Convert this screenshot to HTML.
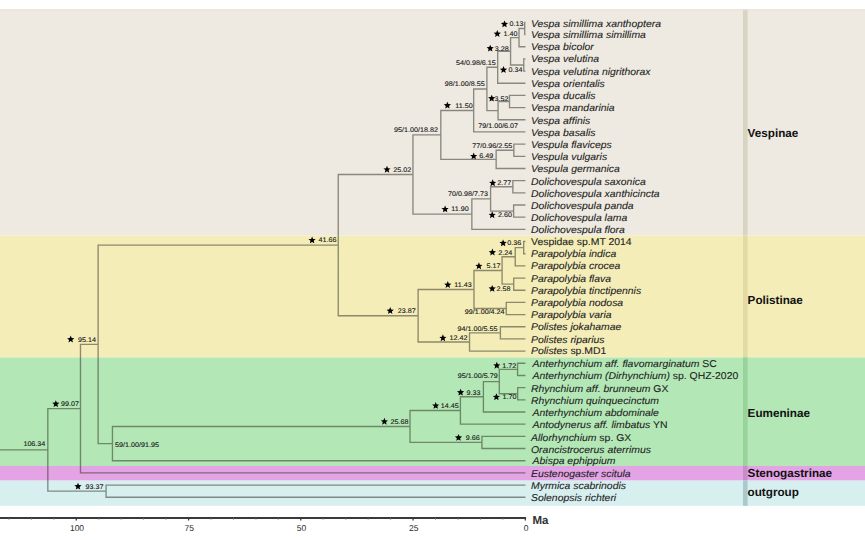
<!DOCTYPE html><html><head><meta charset="utf-8"><style>html,body{margin:0;padding:0;background:#fff;width:865px;height:540px;overflow:hidden}svg{display:block}text{font-family:"Liberation Sans",sans-serif;text-rendering:geometricPrecision}</style></head><body>
<svg width="865" height="540" viewBox="0 0 865 540">
<rect x="0" y="9.40" width="865" height="226.20" fill="#eeeae1"/>
<rect x="743" y="9.40" width="4.6" height="226.20" fill="#d8d4c2"/>
<rect x="0" y="235.60" width="865" height="121.80" fill="#f4edb8"/>
<rect x="743" y="235.60" width="4.6" height="121.80" fill="#e3dba4"/>
<rect x="0" y="357.40" width="865" height="108.60" fill="#b3e8b6"/>
<rect x="743" y="357.40" width="4.6" height="108.60" fill="#98d39c"/>
<rect x="0" y="466.00" width="865" height="14.60" fill="#e3a3e5"/>
<rect x="743" y="466.00" width="4.6" height="14.60" fill="#c78dca"/>
<rect x="0" y="480.60" width="865" height="25.20" fill="#d8eff0"/>
<rect x="743" y="480.60" width="4.6" height="25.20" fill="#a9c9cb"/>
<rect x="0" y="9.4" width="865" height="1" fill="#e6e2da"/>
<path d="M524.72 22.36L524.72 34.54M524.72 22.36L524.80 22.36M524.72 34.54L524.80 34.54M519.01 28.45L519.01 46.71M519.01 28.45L524.72 28.45M519.01 46.71L524.80 46.71M523.77 58.89L523.77 71.06M523.77 58.89L524.80 58.89M523.77 71.06L524.80 71.06M510.57 37.58L510.57 64.98M510.57 37.58L519.01 37.58M510.57 64.98L523.77 64.98M497.69 51.28L497.69 83.24M497.69 51.28L510.57 51.28M497.69 83.24L524.80 83.24M509.50 95.42L509.50 107.59M509.50 95.42L524.80 95.42M509.50 107.59L524.80 107.59M498.05 101.50L498.05 119.77M498.05 101.50L509.50 101.50M498.05 119.77L524.80 119.77M486.91 67.26L486.91 110.64M486.91 67.26L497.69 67.26M486.91 110.64L498.05 110.64M473.66 88.95L473.66 131.94M473.66 88.95L486.91 88.95M473.66 131.94L524.80 131.94M513.85 144.12L513.85 156.30M513.85 144.12L524.80 144.12M513.85 156.30L524.80 156.30M496.16 150.21L496.16 168.47M496.16 150.21L513.85 150.21M496.16 168.47L524.80 168.47M440.80 110.45L440.80 159.34M440.80 110.45L473.66 110.45M440.80 159.34L496.16 159.34M512.86 180.65L512.86 192.82M512.86 180.65L524.80 180.65M512.86 192.82L524.80 192.82M513.63 205.00L513.63 217.18M513.63 205.00L524.80 205.00M513.63 217.18L524.80 217.18M490.59 186.74L490.59 211.09M490.59 186.74L512.86 186.74M490.59 211.09L513.63 211.09M471.87 198.91L471.87 229.35M471.87 198.91L490.59 198.91M471.87 229.35L524.80 229.35M412.96 134.89L412.96 214.13M412.96 134.89L440.80 134.89M412.96 214.13L471.87 214.13M523.68 241.53L523.68 253.70M523.68 241.53L524.80 241.53M523.68 253.70L524.80 253.70M515.24 247.62L515.24 265.88M515.24 247.62L523.68 247.62M515.24 265.88L524.80 265.88M513.72 278.06L513.72 290.23M513.72 278.06L524.80 278.06M513.72 290.23L524.80 290.23M502.09 256.75L502.09 284.14M502.09 256.75L515.24 256.75M502.09 284.14L513.72 284.14M506.26 302.41L506.26 314.58M506.26 302.41L524.80 302.41M506.26 314.58L524.80 314.58M473.98 270.45L473.98 308.50M473.98 270.45L502.09 270.45M473.98 308.50L506.26 308.50M500.38 326.76L500.38 338.94M500.38 326.76L524.80 326.76M500.38 338.94L524.80 338.94M469.53 332.85L469.53 351.11M469.53 332.85L500.38 332.85M469.53 351.11L524.80 351.11M418.12 289.47L418.12 341.98M418.12 289.47L473.98 289.47M418.12 341.98L469.53 341.98M338.25 174.51L338.25 315.73M338.25 174.51L412.96 174.51M338.25 315.73L418.12 315.73M517.58 363.29L517.58 375.46M517.58 363.29L524.80 363.29M517.58 375.46L524.80 375.46M517.67 387.64L517.67 399.82M517.67 387.64L524.80 387.64M517.67 399.82L524.80 399.82M499.30 369.38L499.30 393.73M499.30 369.38L517.58 369.38M499.30 393.73L517.67 393.73M483.41 381.55L483.41 411.99M483.41 381.55L499.30 381.55M483.41 411.99L524.80 411.99M460.42 396.77L460.42 424.17M460.42 396.77L483.41 396.77M460.42 424.17L524.80 424.17M481.93 436.34L481.93 448.52M481.93 436.34L524.80 436.34M481.93 448.52L524.80 448.52M410.00 410.47L410.00 442.43M410.00 410.47L460.42 410.47M410.00 442.43L481.93 442.43M112.44 426.45L112.44 460.70M112.44 426.45L410.00 426.45M112.44 460.70L524.80 460.70M98.12 245.12L98.12 443.57M98.12 245.12L338.25 245.12M98.12 443.57L112.44 443.57M80.48 344.35L80.48 472.87M80.48 344.35L98.12 344.35M80.48 472.87L524.80 472.87M106.07 485.05L106.07 497.22M106.07 485.05L524.80 485.05M106.07 497.22L524.80 497.22M47.83 408.61L47.83 491.14M47.83 408.61L80.48 408.61M47.83 491.14L106.07 491.14M0.00 449.87L47.83 449.87" stroke="#2e2e22" stroke-opacity="0.52" stroke-width="1.35" fill="none" stroke-linecap="square"/>
<text transform="translate(531.00 26.80) scale(1.0556 1)" font-size="9.90" fill="#222" stroke="#222" stroke-width="0.1"><tspan font-style="italic">Vespa simillima xanthoptera</tspan></text>
<text transform="translate(531.00 38.09) scale(1.0556 1)" font-size="9.90" fill="#222" stroke="#222" stroke-width="0.1"><tspan font-style="italic">Vespa simillima simillima</tspan></text>
<text transform="translate(531.00 50.33) scale(1.0556 1)" font-size="9.90" fill="#222" stroke="#222" stroke-width="0.1"><tspan font-style="italic">Vespa bicolor</tspan></text>
<text transform="translate(531.00 62.47) scale(1.0556 1)" font-size="9.90" fill="#222" stroke="#222" stroke-width="0.1"><tspan font-style="italic">Vespa velutina</tspan></text>
<text transform="translate(531.00 74.81) scale(1.0556 1)" font-size="9.90" fill="#222" stroke="#222" stroke-width="0.1"><tspan font-style="italic">Vespa velutina nigrithorax</tspan></text>
<text transform="translate(531.00 86.90) scale(1.0556 1)" font-size="9.90" fill="#222" stroke="#222" stroke-width="0.1"><tspan font-style="italic">Vespa orientalis</tspan></text>
<text transform="translate(531.00 99.28) scale(1.0556 1)" font-size="9.90" fill="#222" stroke="#222" stroke-width="0.1"><tspan font-style="italic">Vespa ducalis</tspan></text>
<text transform="translate(531.00 111.27) scale(1.0556 1)" font-size="9.90" fill="#222" stroke="#222" stroke-width="0.1"><tspan font-style="italic">Vespa mandarinia</tspan></text>
<text transform="translate(531.00 123.61) scale(1.0556 1)" font-size="9.90" fill="#222" stroke="#222" stroke-width="0.1"><tspan font-style="italic">Vespa affinis</tspan></text>
<text transform="translate(531.00 135.70) scale(1.0556 1)" font-size="9.90" fill="#222" stroke="#222" stroke-width="0.1"><tspan font-style="italic">Vespa basalis</tspan></text>
<text transform="translate(531.00 147.78) scale(1.0556 1)" font-size="9.90" fill="#222" stroke="#222" stroke-width="0.1"><tspan font-style="italic">Vespula flaviceps</tspan></text>
<text transform="translate(531.00 159.87) scale(1.0556 1)" font-size="9.90" fill="#222" stroke="#222" stroke-width="0.1"><tspan font-style="italic">Vespula vulgaris</tspan></text>
<text transform="translate(531.00 172.21) scale(1.0556 1)" font-size="9.90" fill="#222" stroke="#222" stroke-width="0.1"><tspan font-style="italic">Vespula germanica</tspan></text>
<text transform="translate(531.00 184.55) scale(1.0556 1)" font-size="9.90" fill="#222" stroke="#222" stroke-width="0.1"><tspan font-style="italic">Dolichovespula saxonica</tspan></text>
<text transform="translate(531.00 196.74) scale(1.0556 1)" font-size="9.90" fill="#222" stroke="#222" stroke-width="0.1"><tspan font-style="italic">Dolichovespula xanthicincta</tspan></text>
<text transform="translate(531.00 208.97) scale(1.0556 1)" font-size="9.90" fill="#222" stroke="#222" stroke-width="0.1"><tspan font-style="italic">Dolichovespula panda</tspan></text>
<text transform="translate(531.00 221.06) scale(1.0556 1)" font-size="9.90" fill="#222" stroke="#222" stroke-width="0.1"><tspan font-style="italic">Dolichovespula lama</tspan></text>
<text transform="translate(531.00 233.20) scale(1.0556 1)" font-size="9.90" fill="#222" stroke="#222" stroke-width="0.1"><tspan font-style="italic">Dolichovespula flora</tspan></text>
<text transform="translate(531.00 245.04) scale(1.0556 1)" font-size="9.90" fill="#222" stroke="#222" stroke-width="0.1"><tspan font-style="normal">Vespidae sp.MT 2014</tspan></text>
<text transform="translate(531.00 257.38) scale(1.0556 1)" font-size="9.90" fill="#222" stroke="#222" stroke-width="0.1"><tspan font-style="italic">Parapolybia indica</tspan></text>
<text transform="translate(531.00 269.47) scale(1.0556 1)" font-size="9.90" fill="#222" stroke="#222" stroke-width="0.1"><tspan font-style="italic">Parapolybia crocea</tspan></text>
<text transform="translate(531.00 281.55) scale(1.0556 1)" font-size="9.90" fill="#222" stroke="#222" stroke-width="0.1"><tspan font-style="italic">Parapolybia flava</tspan></text>
<text transform="translate(531.00 293.89) scale(1.0556 1)" font-size="9.90" fill="#222" stroke="#222" stroke-width="0.1"><tspan font-style="italic">Parapolybia tinctipennis</tspan></text>
<text transform="translate(531.00 306.08) scale(1.0556 1)" font-size="9.90" fill="#222" stroke="#222" stroke-width="0.1"><tspan font-style="italic">Parapolybia nodosa</tspan></text>
<text transform="translate(531.00 318.07) scale(1.0556 1)" font-size="9.90" fill="#222" stroke="#222" stroke-width="0.1"><tspan font-style="italic">Parapolybia varia</tspan></text>
<text transform="translate(531.00 330.40) scale(1.0556 1)" font-size="9.90" fill="#222" stroke="#222" stroke-width="0.1"><tspan font-style="italic">Polistes jokahamae</tspan></text>
<text transform="translate(531.00 342.74) scale(1.0556 1)" font-size="9.90" fill="#222" stroke="#222" stroke-width="0.1"><tspan font-style="italic">Polistes riparius</tspan></text>
<text transform="translate(531.00 354.48) scale(1.0556 1)" font-size="9.90" fill="#222" stroke="#222" stroke-width="0.1"><tspan font-style="italic">Polistes </tspan><tspan font-style="normal">sp.MD1</tspan></text>
<text transform="translate(532.60 367.17) scale(1.0556 1)" font-size="9.90" fill="#222" stroke="#222" stroke-width="0.1"><tspan font-style="italic">Anterhynchium aff. flavomarginatum </tspan><tspan font-style="normal">SC</tspan></text>
<text transform="translate(532.60 379.26) scale(1.0556 1)" font-size="9.90" fill="#222" stroke="#222" stroke-width="0.1"><tspan font-style="italic">Anterhynchium (Dirhynchium) </tspan><tspan font-style="normal">sp. QHZ-2020</tspan></text>
<text transform="translate(531.00 391.60) scale(1.0556 1)" font-size="9.90" fill="#222" stroke="#222" stroke-width="0.1"><tspan font-style="italic">Rhynchium aff. brunneum </tspan><tspan font-style="normal">GX</tspan></text>
<text transform="translate(531.00 403.68) scale(1.0556 1)" font-size="9.90" fill="#222" stroke="#222" stroke-width="0.1"><tspan font-style="italic">Rhynchium quinquecinctum</tspan></text>
<text transform="translate(532.60 415.87) scale(1.0556 1)" font-size="9.90" fill="#222" stroke="#222" stroke-width="0.1"><tspan font-style="italic">Anterhynchium abdominale</tspan></text>
<text transform="translate(532.60 428.11) scale(1.0556 1)" font-size="9.90" fill="#222" stroke="#222" stroke-width="0.1"><tspan font-style="italic">Antodynerus aff. limbatus </tspan><tspan font-style="normal">YN</tspan></text>
<text transform="translate(531.00 440.65) scale(1.0556 1)" font-size="9.90" fill="#222" stroke="#222" stroke-width="0.1"><tspan font-style="italic">Allorhynchium </tspan><tspan font-style="normal">sp. GX</tspan></text>
<text transform="translate(531.00 452.88) scale(1.0556 1)" font-size="9.90" fill="#222" stroke="#222" stroke-width="0.1"><tspan font-style="italic">Orancistrocerus aterrimus</tspan></text>
<text transform="translate(532.60 464.27) scale(1.0556 1)" font-size="9.90" fill="#222" stroke="#222" stroke-width="0.1"><tspan font-style="italic">Abispa ephippium</tspan></text>
<text transform="translate(531.00 476.76) scale(1.0556 1)" font-size="9.90" fill="#222" stroke="#222" stroke-width="0.1"><tspan font-style="italic">Eustenogaster scitula</tspan></text>
<text transform="translate(531.00 489.05) scale(1.0556 1)" font-size="9.90" fill="#222" stroke="#222" stroke-width="0.1"><tspan font-style="italic">Myrmica scabrinodis</tspan></text>
<text transform="translate(531.00 501.39) scale(1.0556 1)" font-size="9.90" fill="#222" stroke="#222" stroke-width="0.1"><tspan font-style="italic">Solenopsis richteri</tspan></text>
<text transform="translate(509.50 26.30) scale(1.0746 1)" font-size="6.70" fill="#1a1a1a" stroke="#1a1a1a" stroke-width="0.12">0.13</text>
<polygon points="504.50,20.40 505.50,22.81 508.10,23.02 506.12,24.71 506.73,27.25 504.50,25.89 502.27,27.25 502.88,24.71 500.90,23.02 503.50,22.81" fill="#000"/>
<text transform="translate(503.47 36.00) scale(1.0746 1)" font-size="6.70" fill="#1a1a1a" stroke="#1a1a1a" stroke-width="0.12">1.40</text>
<polygon points="497.30,30.10 498.30,32.51 500.90,32.72 498.92,34.41 499.53,36.95 497.30,35.59 495.07,36.95 495.68,34.41 493.70,32.72 496.30,32.51" fill="#000"/>
<text transform="translate(494.65 50.60) scale(1.0746 1)" font-size="6.70" fill="#1a1a1a" stroke="#1a1a1a" stroke-width="0.12">3.28</text>
<polygon points="490.20,44.70 491.20,47.11 493.80,47.32 491.82,49.01 492.43,51.55 490.20,50.19 487.97,51.55 488.58,49.01 486.60,47.32 489.20,47.11" fill="#000"/>
<text transform="translate(455.90 65.20) scale(1.0746 1)" font-size="6.70" fill="#1a1a1a" stroke="#1a1a1a" stroke-width="0.12">54/0.98/6.15</text>
<text transform="translate(508.45 72.00) scale(1.0746 1)" font-size="6.70" fill="#1a1a1a" stroke="#1a1a1a" stroke-width="0.12">0.34</text>
<polygon points="503.50,66.10 504.50,68.51 507.10,68.72 505.12,70.41 505.73,72.95 503.50,71.59 501.27,72.95 501.88,70.41 499.90,68.72 502.50,68.51" fill="#000"/>
<text transform="translate(444.70 85.50) scale(1.0746 1)" font-size="6.70" fill="#1a1a1a" stroke="#1a1a1a" stroke-width="0.12">98/1.00/8.55</text>
<text transform="translate(455.23 107.60) scale(1.0746 1)" font-size="6.70" fill="#1a1a1a" stroke="#1a1a1a" stroke-width="0.12">11.50</text>
<polygon points="447.40,101.70 448.40,104.11 451.00,104.32 449.02,106.01 449.63,108.55 447.40,107.19 445.17,108.55 445.78,106.01 443.80,104.32 446.40,104.11" fill="#000"/>
<text transform="translate(494.50 100.60) scale(1.0746 1)" font-size="6.70" fill="#1a1a1a" stroke="#1a1a1a" stroke-width="0.12">3.52</text>
<polygon points="491.70,94.70 492.70,97.11 495.30,97.32 493.32,99.01 493.93,101.55 491.70,100.19 489.47,101.55 490.08,99.01 488.10,97.32 490.70,97.11" fill="#000"/>
<text transform="translate(478.15 127.70) scale(1.0746 1)" font-size="6.70" fill="#1a1a1a" stroke="#1a1a1a" stroke-width="0.12">79/1.00/6.07</text>
<text transform="translate(394.02 132.40) scale(1.0746 1)" font-size="6.70" fill="#1a1a1a" stroke="#1a1a1a" stroke-width="0.12">95/1.00/18.82</text>
<text transform="translate(393.25 171.70) scale(1.0746 1)" font-size="6.70" fill="#1a1a1a" stroke="#1a1a1a" stroke-width="0.12">25.02</text>
<polygon points="387.00,165.80 388.00,168.21 390.60,168.42 388.62,170.11 389.23,172.65 387.00,171.29 384.77,172.65 385.38,170.11 383.40,168.42 386.00,168.21" fill="#000"/>
<text transform="translate(472.27 148.20) scale(1.0746 1)" font-size="6.70" fill="#1a1a1a" stroke="#1a1a1a" stroke-width="0.12">77/0.96/2.55</text>
<text transform="translate(479.32 158.40) scale(1.0746 1)" font-size="6.70" fill="#1a1a1a" stroke="#1a1a1a" stroke-width="0.12">6.49</text>
<polygon points="473.70,152.50 474.70,154.91 477.30,155.12 475.32,156.81 475.93,159.35 473.70,157.99 471.47,159.35 472.08,156.81 470.10,155.12 472.70,154.91" fill="#000"/>
<text transform="translate(497.35 185.20) scale(1.0746 1)" font-size="6.70" fill="#1a1a1a" stroke="#1a1a1a" stroke-width="0.12">2.77</text>
<polygon points="492.70,179.30 493.70,181.71 496.30,181.92 494.32,183.61 494.93,186.15 492.70,184.79 490.47,186.15 491.08,183.61 489.10,181.92 491.70,181.71" fill="#000"/>
<text transform="translate(448.12 196.10) scale(1.0746 1)" font-size="6.70" fill="#1a1a1a" stroke="#1a1a1a" stroke-width="0.12">70/0.98/7.73</text>
<text transform="translate(451.27 211.40) scale(1.0746 1)" font-size="6.70" fill="#1a1a1a" stroke="#1a1a1a" stroke-width="0.12">11.90</text>
<polygon points="445.10,205.50 446.10,207.91 448.70,208.12 446.72,209.81 447.33,212.35 445.10,210.99 442.87,212.35 443.48,209.81 441.50,208.12 444.10,207.91" fill="#000"/>
<text transform="translate(497.95 217.20) scale(1.0746 1)" font-size="6.70" fill="#1a1a1a" stroke="#1a1a1a" stroke-width="0.12">2.60</text>
<polygon points="492.20,211.30 493.20,213.71 495.80,213.92 493.82,215.61 494.43,218.15 492.20,216.79 489.97,218.15 490.58,215.61 488.60,213.92 491.20,213.71" fill="#000"/>
<text transform="translate(507.15 245.30) scale(1.0746 1)" font-size="6.70" fill="#1a1a1a" stroke="#1a1a1a" stroke-width="0.12">0.36</text>
<polygon points="503.10,239.40 504.10,241.81 506.70,242.02 504.72,243.71 505.33,246.25 503.10,244.89 500.87,246.25 501.48,243.71 499.50,242.02 502.10,241.81" fill="#000"/>
<text transform="translate(498.30 254.50) scale(1.0746 1)" font-size="6.70" fill="#1a1a1a" stroke="#1a1a1a" stroke-width="0.12">2.24</text>
<polygon points="492.40,248.60 493.40,251.01 496.00,251.22 494.02,252.91 494.63,255.45 492.40,254.09 490.17,255.45 490.78,252.91 488.80,251.22 491.40,251.01" fill="#000"/>
<text transform="translate(486.55 268.20) scale(1.0746 1)" font-size="6.70" fill="#1a1a1a" stroke="#1a1a1a" stroke-width="0.12">5.17</text>
<polygon points="478.90,262.30 479.90,264.71 482.50,264.92 480.52,266.61 481.13,269.15 478.90,267.79 476.67,269.15 477.28,266.61 475.30,264.92 477.90,264.71" fill="#000"/>
<text transform="translate(454.18 287.00) scale(1.0746 1)" font-size="6.70" fill="#1a1a1a" stroke="#1a1a1a" stroke-width="0.12">11.43</text>
<polygon points="447.80,281.10 448.80,283.51 451.40,283.72 449.42,285.41 450.03,287.95 447.80,286.59 445.57,287.95 446.18,285.41 444.20,283.72 446.80,283.51" fill="#000"/>
<text transform="translate(496.60 290.80) scale(1.0746 1)" font-size="6.70" fill="#1a1a1a" stroke="#1a1a1a" stroke-width="0.12">2.58</text>
<polygon points="492.20,284.90 493.20,287.31 495.80,287.52 493.82,289.21 494.43,291.75 492.20,290.39 489.97,291.75 490.58,289.21 488.60,287.52 491.20,287.31" fill="#000"/>
<text transform="translate(464.65 313.70) scale(1.0746 1)" font-size="6.70" fill="#1a1a1a" stroke="#1a1a1a" stroke-width="0.12">99/1.00/4.24</text>
<text transform="translate(397.85 313.00) scale(1.0746 1)" font-size="6.70" fill="#1a1a1a" stroke="#1a1a1a" stroke-width="0.12">23.87</text>
<polygon points="390.20,307.10 391.20,309.51 393.80,309.72 391.82,311.41 392.43,313.95 390.20,312.59 387.97,313.95 388.58,311.41 386.60,309.72 389.20,309.51" fill="#000"/>
<text transform="translate(457.50 330.80) scale(1.0746 1)" font-size="6.70" fill="#1a1a1a" stroke="#1a1a1a" stroke-width="0.12">94/1.00/5.55</text>
<text transform="translate(449.52 340.20) scale(1.0746 1)" font-size="6.70" fill="#1a1a1a" stroke="#1a1a1a" stroke-width="0.12">12.42</text>
<polygon points="442.90,334.30 443.90,336.71 446.50,336.92 444.52,338.61 445.13,341.15 442.90,339.79 440.67,341.15 441.28,338.61 439.30,336.92 441.90,336.71" fill="#000"/>
<text transform="translate(318.45 242.40) scale(1.0746 1)" font-size="6.70" fill="#1a1a1a" stroke="#1a1a1a" stroke-width="0.12">41.66</text>
<polygon points="312.10,236.50 313.10,238.91 315.70,239.12 313.72,240.81 314.33,243.35 312.10,241.99 309.87,243.35 310.48,240.81 308.50,239.12 311.10,238.91" fill="#000"/>
<text transform="translate(502.23 367.70) scale(1.0746 1)" font-size="6.70" fill="#1a1a1a" stroke="#1a1a1a" stroke-width="0.12">1.72</text>
<polygon points="496.80,361.80 497.80,364.21 500.40,364.42 498.42,366.11 499.03,368.65 496.80,367.29 494.57,368.65 495.18,366.11 493.20,364.42 495.80,364.21" fill="#000"/>
<text transform="translate(457.77 378.40) scale(1.0746 1)" font-size="6.70" fill="#1a1a1a" stroke="#1a1a1a" stroke-width="0.12">95/1.00/5.79</text>
<text transform="translate(466.55 394.60) scale(1.0746 1)" font-size="6.70" fill="#1a1a1a" stroke="#1a1a1a" stroke-width="0.12">9.33</text>
<polygon points="460.60,388.70 461.60,391.11 464.20,391.32 462.22,393.01 462.83,395.55 460.60,394.19 458.37,395.55 458.98,393.01 457.00,391.32 459.60,391.11" fill="#000"/>
<text transform="translate(502.43 399.20) scale(1.0746 1)" font-size="6.70" fill="#1a1a1a" stroke="#1a1a1a" stroke-width="0.12">1.70</text>
<polygon points="496.40,393.30 497.40,395.71 500.00,395.92 498.02,397.61 498.63,400.15 496.40,398.79 494.17,400.15 494.78,397.61 492.80,395.92 495.40,395.71" fill="#000"/>
<text transform="translate(440.83 407.90) scale(1.0746 1)" font-size="6.70" fill="#1a1a1a" stroke="#1a1a1a" stroke-width="0.12">14.45</text>
<polygon points="435.70,402.00 436.70,404.41 439.30,404.62 437.32,406.31 437.93,408.85 435.70,407.49 433.47,408.85 434.08,406.31 432.10,404.62 434.70,404.41" fill="#000"/>
<text transform="translate(390.45 423.70) scale(1.0746 1)" font-size="6.70" fill="#1a1a1a" stroke="#1a1a1a" stroke-width="0.12">25.68</text>
<polygon points="384.40,417.80 385.40,420.21 388.00,420.42 386.02,422.11 386.63,424.65 384.40,423.29 382.17,424.65 382.78,422.11 380.80,420.42 383.40,420.21" fill="#000"/>
<text transform="translate(465.85 439.80) scale(1.0746 1)" font-size="6.70" fill="#1a1a1a" stroke="#1a1a1a" stroke-width="0.12">9.66</text>
<polygon points="458.50,433.90 459.50,436.31 462.10,436.52 460.12,438.21 460.73,440.75 458.50,439.39 456.27,440.75 456.88,438.21 454.90,436.52 457.50,436.31" fill="#000"/>
<text transform="translate(77.95 341.50) scale(1.0746 1)" font-size="6.70" fill="#1a1a1a" stroke="#1a1a1a" stroke-width="0.12">95.14</text>
<polygon points="70.70,335.60 71.70,338.01 74.30,338.22 72.32,339.91 72.93,342.45 70.70,341.09 68.47,342.45 69.08,339.91 67.10,338.22 69.70,338.01" fill="#000"/>
<text transform="translate(61.05 406.10) scale(1.0746 1)" font-size="6.70" fill="#1a1a1a" stroke="#1a1a1a" stroke-width="0.12">99.07</text>
<polygon points="55.80,400.20 56.80,402.61 59.40,402.82 57.42,404.51 58.03,407.05 55.80,405.69 53.57,407.05 54.18,404.51 52.20,402.82 54.80,402.61" fill="#000"/>
<text transform="translate(23.38 445.90) scale(1.0746 1)" font-size="6.70" fill="#1a1a1a" stroke="#1a1a1a" stroke-width="0.12">106.34</text>
<text transform="translate(115.00 446.60) scale(1.0746 1)" font-size="6.70" fill="#1a1a1a" stroke="#1a1a1a" stroke-width="0.12">59/1.00/91.95</text>
<text transform="translate(85.50 488.60) scale(1.0746 1)" font-size="6.70" fill="#1a1a1a" stroke="#1a1a1a" stroke-width="0.12">93.37</text>
<polygon points="78.00,482.70 79.00,485.11 81.60,485.32 79.62,487.01 80.23,489.55 78.00,488.19 75.77,489.55 76.38,487.01 74.40,485.32 77.00,485.11" fill="#000"/>
<text x="747.6" y="136.50" font-size="11.70" font-weight="bold" fill="#111">Vespinae</text>
<text x="747.6" y="304.20" font-size="11.70" font-weight="bold" fill="#111">Polistinae</text>
<text x="747.6" y="417.30" font-size="11.70" font-weight="bold" fill="#111">Eumeninae</text>
<text x="747.6" y="476.70" font-size="11.70" font-weight="bold" fill="#111">Stenogastrinae</text>
<text x="747.6" y="495.80" font-size="11.70" font-weight="bold" fill="#111">outgroup</text>
<path d="M0 518H526.1" stroke="#3a3a3a" stroke-width="1.8" fill="none"/>
<path d="M525.30 518V520.6M413.05 518V520.6M300.80 518V520.6M188.55 518V520.6M76.30 518V520.6" stroke="#3a3a3a" stroke-width="1.3" fill="none"/>
<path d="M502.85 518V519.8M480.40 518V519.8M457.95 518V519.8M435.50 518V519.8M390.60 518V519.8M368.15 518V519.8M345.70 518V519.8M323.25 518V519.8M278.35 518V519.8M255.90 518V519.8M233.45 518V519.8M211.00 518V519.8M166.10 518V519.8M143.65 518V519.8M121.20 518V519.8M98.75 518V519.8M53.85 518V519.8M31.40 518V519.8M8.95 518V519.8" stroke="#777" stroke-width="0.8" fill="none"/>
<text x="77.00" y="531.2" font-size="8.5" fill="#2a2a2a" text-anchor="middle">100</text>
<text x="189.25" y="531.2" font-size="8.5" fill="#2a2a2a" text-anchor="middle">75</text>
<text x="301.50" y="531.2" font-size="8.5" fill="#2a2a2a" text-anchor="middle">50</text>
<text x="413.75" y="531.2" font-size="8.5" fill="#2a2a2a" text-anchor="middle">25</text>
<text x="526.00" y="531.2" font-size="8.5" fill="#2a2a2a" text-anchor="middle">0</text>
<text x="532.4" y="523.9" font-size="11.5" font-weight="bold" fill="#333">Ma</text>
</svg></body></html>
